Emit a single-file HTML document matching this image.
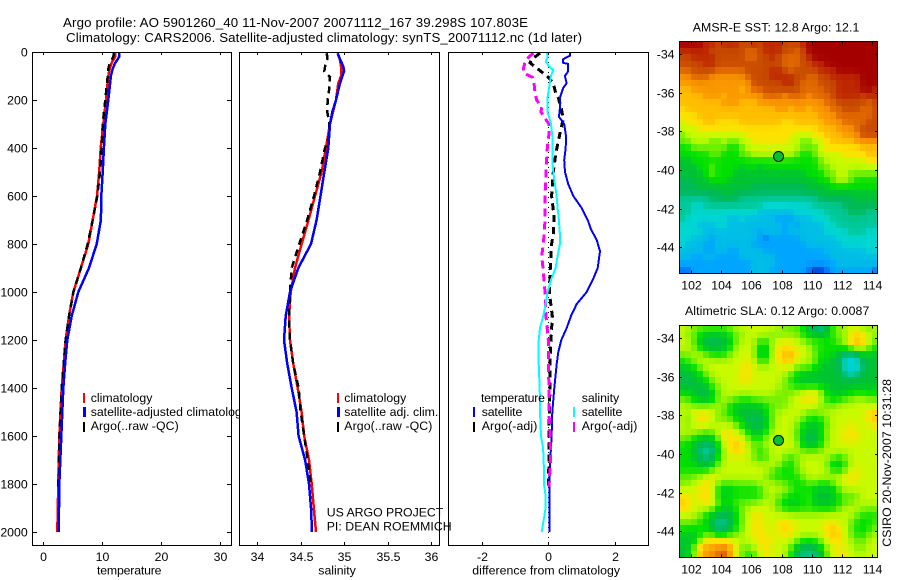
<!DOCTYPE html>
<html>
<head>
<meta charset="utf-8">
<title>Argo profile</title>
<style>
html,body{margin:0;padding:0;background:#fff;}
svg{display:block;}
text{font-family:"Liberation Sans",sans-serif;font-size:12.3px;fill:#000;}
</style>
</head>
<body>
<svg id="figure" xmlns="http://www.w3.org/2000/svg" width="900" height="580" viewBox="0 0 900 580">
  <rect x="0" y="0" width="900" height="580" fill="#fff"/>
  <text x="63" y="27" style="font-size:13.3px" textLength="465" lengthAdjust="spacing">Argo profile: AO 5901260_40 11-Nov-2007 20071112_167 39.298S 107.803E</text>
  <text x="66" y="42" style="font-size:13.3px" textLength="516" lengthAdjust="spacing">Climatology: CARS2006. Satellite-adjusted climatology: synTS_20071112.nc (1d later)</text>

  <g id="temp-panel">
    <rect x="32.5" y="52.5" width="199" height="493" fill="#fff"/>
    <g id="temp-series"></g>
    <g id="temp-axes"></g>
    <rect x="32.5" y="52.5" width="199" height="493" fill="none" stroke="#000"/>
    <g>
      <rect x="83" y="393" width="2" height="10" fill="#f00"/>
      <rect x="83" y="407" width="3" height="10" fill="#00f"/>
      <rect x="83" y="422" width="2" height="10" fill="#000"/>
      <text x="90.7" y="402" textLength="61.7">climatology</text>
      <text x="90.7" y="416">satellite-adjusted climatology</text>
      <text x="90.7" y="430" textLength="88">Argo(..raw -QC)</text>
    </g>
    <text x="97" y="574.5" textLength="64.5">temperature</text>
  </g>

  <g id="sal-panel">
    <rect x="239.5" y="52.5" width="200" height="493" fill="#fff"/>
    <g id="sal-series"></g>
    <g id="sal-axes"></g>
    <rect x="239.5" y="52.5" width="200" height="493" fill="none" stroke="#000"/>
    <g>
      <rect x="337" y="393" width="2" height="10" fill="#f00"/>
      <rect x="337" y="407" width="3" height="10" fill="#00f"/>
      <rect x="337" y="422" width="2" height="10" fill="#000"/>
      <text x="344.3" y="402" textLength="62">climatology</text>
      <text x="344.3" y="416" textLength="94">satellite adj. clim.</text>
      <text x="344.3" y="430" textLength="88">Argo(..raw -QC)</text>
    </g>
    <text x="318.3" y="574.5" textLength="37.5">salinity</text>
  </g>

  <g id="diff-panel">
    <rect x="448.5" y="52.5" width="200" height="493" fill="#fff"/>
    <g id="diff-series"></g>
    <g id="diff-axes"></g>
    <rect x="448.5" y="52.5" width="200" height="493" fill="none" stroke="#000"/>
    <g>
      <text x="481" y="402" textLength="64">temperature</text>
      <text x="581.7" y="402" textLength="37.5">salinity</text>
      <rect x="473" y="407" width="2" height="10" fill="#00f"/>
      <rect x="473" y="422" width="2" height="10" fill="#000"/>
      <rect x="573" y="407" width="2" height="10" fill="#0ff"/>
      <rect x="573" y="422" width="2" height="10" fill="#f0f"/>
      <text x="481.7" y="416" textLength="40.6">satellite</text>
      <text x="481.7" y="430" textLength="55.6">Argo(-adj)</text>
      <text x="581.7" y="416" textLength="40.6">satellite</text>
      <text x="581.7" y="430" textLength="55.6">Argo(-adj)</text>
    </g>
    <text x="472.3" y="574.5" textLength="147.7">difference from climatology</text>
  </g>

  <text x="326.7" y="516.7" textLength="116.6">US ARGO PROJECT</text>
  <text x="326.7" y="530.7" textLength="125">PI: DEAN ROEMMICH</text>

  <g id="sst-map">
    <text x="692.7" y="31.5" textLength="166.6">AMSR-E SST: 12.8 Argo: 12.1</text>
    <g id="sst-cells" shape-rendering="crispEdges"></g>
    <g id="sst-axes"></g>
    <rect x="679.5" y="41.5" width="198" height="232" fill="none" stroke="#000"/>
  </g>

  <g id="sla-map">
    <text x="685" y="315" textLength="184.3">Altimetric SLA: 0.12 Argo: 0.0087</text>
    <g id="sla-cells" shape-rendering="crispEdges"></g>
    <g id="sla-axes"></g>
    <rect x="679.5" y="325.5" width="198" height="232" fill="none" stroke="#000"/>
  </g>

  <text transform="translate(891 546.7) rotate(-90)" x="0" y="0" textLength="167.7">CSIRO 20-Nov-2007 10:31:28</text>
</svg>

<script>
// ---------- chart data ----------
const depthTicks = [0,200,400,600,800,1000,1200,1400,1600,1800,2000];
const tempTicks = [0,10,20,30];
const salTicks = [34,34.5,35,35.5,36];
const salTickLabels = ['34','34.5','35','35.5','36'];
const diffTicks = [-2,0,2];
const lonTicks = [102,104,106,108,110,112,114];
const latTicks = [-34,-36,-38,-40,-42,-44];

const tempDepths = [5,20,47,70,100,200,300,400,500,600,700,800,900,1000,1100,1200,1300,1400,1600,1800,2000];
const tempClim = [12.2,12.2,11.6,11.3,11.05,10.66,10.2,9.76,9.5,9.13,8.4,7.66,6.4,5.1,4.37,3.8,3.47,3.13,2.72,2.55,2.38];
const tempSat = [12.9,12.9,12.2,11.8,11.5,11.05,10.55,10.3,10.1,9.87,9.8,9.08,7.77,5.95,4.83,4.08,3.7,3.4,3.06,2.72,2.62];
const argoTempDepths = [5,20,47,70,100,200,300,400,500,600,700,800,900,1000,1100,1200,1300,1400,1500,1600,1810];
const tempArgo = [12.0,11.9,11.3,11.05,10.95,10.55,10.1,9.93,9.64,9.18,8.4,7.55,6.4,5.13,4.37,3.8,3.47,3.13,2.93,2.75,2.55];

const salDepths = [5,30,60,80,100,130,200,250,300,400,500,600,700,800,900,1000,1100,1200,1300,1400,1500,1600,1700,1800,1900,2000];
const salClim = [34.925,34.95,34.964,34.97,34.964,34.933,34.906,34.87,34.837,34.79,34.74,34.664,34.59,34.51,34.434,34.384,34.365,34.376,34.415,34.465,34.51,34.54,34.595,34.626,34.65,34.676];
const salSat = [34.925,34.952,34.99,35.0,34.98,34.952,34.906,34.864,34.837,34.817,34.771,34.728,34.683,34.618,34.472,34.376,34.327,34.307,34.345,34.396,34.453,34.476,34.55,34.595,34.618,34.63];
const argoSalDepths = [5,30,40,80,105,150,200,250,300,350,400,500,600,700,800,900,1000,1100,1200,1300,1400,1500,1600,1700,1810];
const salArgo = [34.8,34.807,34.79,34.771,34.837,34.83,34.81,34.806,34.83,34.826,34.78,34.722,34.653,34.575,34.484,34.396,34.376,34.365,34.376,34.415,34.476,34.5,34.54,34.58,34.62];

const diffSatTempDepths = [5,15,30,45,50,80,100,130,150,190,230,270,300,350,400,450,500,550,600,650,700,740,783,830,900,950,1000,1050,1100,1150,1200,1250,1300,1400,1500,1600,1700,1800,1900,2000];
const diffSatTemp = [0.654,0.65,0.45,0.45,0.6,0.6,0.5,0.553,0.45,0.352,0.352,0.322,0.48,0.533,0.524,0.48,0.503,0.6,0.753,1.006,1.187,1.29,1.458,1.557,1.487,1.337,1.156,0.855,0.684,0.553,0.392,0.3,0.253,0.18,0.12,0.1,0.06,0.03,0.03,0.03];
const diffSatSalDepths = [5,20,40,60,75,100,150,200,250,270,300,350,400,450,500,550,600,650,700,760,800,850,900,950,1000,1050,1100,1150,1200,1300,1400,1500,1600,1650,1700,1800,1850,1900,1950,2000];
const diffSatSal = [-0.04,-0.02,-0.07,0.02,0.15,0.08,0.02,-0.03,-0.02,0.02,0.08,0.12,0.12,0.12,0.15,0.2,0.25,0.28,0.32,0.35,0.35,0.28,0.22,0.08,-0.02,-0.08,-0.15,-0.25,-0.29,-0.29,-0.26,-0.25,-0.22,-0.16,-0.14,-0.13,-0.08,-0.08,-0.14,-0.2];
const diffArgoTempDepths = [5,15,30,45,80,105,130,170,190,240,280,340,420,500,600,680,750,800,900,1000,1100,1200,1300,1400,1500,1700,1810];
const diffArgoTemp = [-0.25,-0.35,-0.5,-0.55,-0.23,0,0.15,0.22,0.3,0.4,0.45,0.35,0.23,0.15,0.1,0.17,0.16,0.1,0.06,0.03,0.12,0.08,0.05,0.05,0.03,0.02,0];
const diffArgoSalDepths = [5,20,40,70,90,105,130,170,200,230,250,280,300,340,400,450,500,600,700,750,800,850,900,1000,1100,1200,1300,1400,1500,1600,1700,1810];
const diffArgoSal = [-0.45,-0.58,-0.7,-0.75,-0.72,-0.48,-0.43,-0.4,-0.35,-0.2,-0.22,-0.08,0.02,0.02,-0.03,-0.05,-0.07,-0.1,-0.1,-0.12,-0.15,-0.2,-0.16,-0.1,-0.07,0,0,0.02,0.02,0.05,0.07,0.02];

const argoLon = [107.803];
const argoLat = [-39.298];

// Heatmap values: colour-scale level per cell, north to south, west to east.
const sstGrid = [
[17,17,17,17,16,16,15,16,16,16,15,15,16,15,16,16,16,15,15,15,16,17,17,17,17,17,17,17,17,17,17,17,17],
[16,16,16,16,16,15,15,15,15,15,15,14,14,15,16,16,16,15,15,14,15,17,17,17,17,17,17,17,17,17,17,17,17],
[15,15,16,16,16,16,15,15,15,15,15,14,14,15,15,16,15,14,14,14,15,16,17,17,17,17,17,17,17,17,17,17,17],
[15,15,15,15,16,16,15,15,15,15,15,15,15,15,15,15,15,14,14,14,15,15,16,16,17,17,17,17,17,17,17,17,17],
[14,14,15,15,15,15,14,14,14,14,14,15,15,15,15,16,16,15,14,15,15,15,15,16,16,16,17,17,17,17,17,17,17],
[13,13,14,14,14,13,13,13,13,13,13,14,15,15,15,16,16,16,16,15,15,14,14,15,15,16,16,16,16,16,17,17,17],
[13,13,13,13,13,13,13,13,13,13,13,13,15,15,15,15,15,16,16,15,14,14,14,15,15,15,16,16,16,16,17,17,17],
[12,12,13,13,13,13,13,13,13,13,12,13,14,14,15,15,15,15,15,15,14,14,14,14,15,15,16,16,16,16,17,17,16],
[12,12,12,12,13,13,13,12,13,13,13,13,13,13,14,14,14,13,14,14,14,13,14,14,14,15,16,16,16,16,15,16,16],
[12,12,12,12,12,12,12,13,13,13,12,12,12,13,13,13,13,13,13,13,13,13,13,13,14,14,15,15,15,15,15,14,15],
[11,12,12,12,12,12,12,12,12,12,12,12,12,12,12,12,13,13,12,13,13,12,13,13,13,14,14,15,15,15,14,14,15],
[11,11,11,12,12,12,12,12,12,12,12,12,12,12,12,12,12,12,12,12,12,12,12,13,13,13,14,14,14,14,14,14,15],
[10,11,11,11,12,12,11,11,11,11,12,12,12,12,12,12,12,11,11,12,12,12,12,12,13,13,13,14,14,14,14,15,15],
[10,10,10,11,11,11,11,11,11,11,11,11,11,11,11,11,11,11,11,11,11,11,11,12,12,12,13,13,13,14,15,15,15],
[9,10,10,10,10,10,10,10,10,10,10,11,11,11,11,11,11,11,11,10,10,10,11,11,12,12,12,13,13,13,15,15,15],
[9,9,10,10,10,9,9,10,9,9,10,10,11,11,11,11,11,11,10,10,9,9,10,10,11,12,12,12,12,13,13,13,13],
[8,8,9,9,9,9,9,9,8,8,9,10,10,10,10,10,10,10,10,10,9,9,9,10,11,11,11,11,11,11,12,12,12],
[8,8,8,8,8,9,9,8,8,8,9,9,10,10,10,10,10,10,10,9,8,8,9,10,10,10,10,11,11,11,11,12,12],
[7,7,8,8,8,8,8,8,8,8,8,8,8,8,8,8,8,8,8,8,8,8,8,9,10,10,10,10,10,10,10,11,11],
[7,7,7,8,8,9,8,8,8,8,7,8,8,7,8,8,8,8,8,8,8,8,8,9,9,10,10,10,10,10,10,10,10],
[7,7,7,7,8,9,8,8,8,7,7,7,7,7,7,7,7,7,7,7,7,8,8,8,9,9,10,10,9,9,9,9,9],
[6,6,7,7,7,8,8,8,7,7,7,7,7,7,7,7,7,7,7,7,7,7,7,8,8,9,10,10,9,8,8,8,8],
[6,6,6,7,7,7,7,7,7,7,7,7,6,6,6,6,6,6,6,6,6,7,7,7,7,8,8,8,8,8,8,8,8],
[6,6,6,6,6,6,6,7,7,6,6,6,6,6,6,6,6,6,6,6,6,6,6,7,7,7,7,7,7,7,7,7,7],
[5,5,5,5,5,6,6,6,6,6,5,5,5,5,5,5,5,5,5,5,5,5,5,6,6,6,6,6,6,7,7,7,7],
[5,5,4,4,5,5,5,5,5,5,5,5,5,5,4,4,4,4,4,4,4,4,5,5,5,5,5,6,6,6,6,6,6],
[5,5,4,4,4,4,4,4,4,4,4,4,4,3,3,3,3,3,3,4,4,4,4,4,5,5,5,5,6,6,6,5,5],
[5,4,4,4,4,4,4,4,3,3,4,3,3,3,3,3,2,2,2,3,3,3,4,4,4,5,5,5,5,5,5,5,5],
[4,4,4,3,3,3,4,4,3,3,3,3,3,3,3,3,3,2,3,2,3,3,3,3,4,4,5,5,5,5,5,5,5],
[4,4,4,4,3,3,3,3,3,3,3,3,3,2,3,3,3,2,3,3,3,3,3,3,4,4,4,4,5,5,5,4,4],
[4,4,3,3,3,2,3,3,3,3,3,3,3,2,1,2,2,2,2,2,3,3,3,3,3,3,4,4,4,4,4,4,4],
[4,3,3,3,2,2,3,3,3,3,3,3,2,2,2,2,2,2,2,2,2,3,3,3,3,3,3,4,4,4,4,4,4],
[3,3,3,3,2,2,3,3,2,2,3,3,3,3,2,2,2,2,2,2,2,2,2,2,3,3,3,3,3,3,3,4,4],
[3,3,2,2,3,3,2,2,2,2,3,3,3,3,3,3,2,2,2,2,2,2,2,2,2,3,3,3,3,3,3,3,3],
[2,2,2,2,2,2,2,2,2,2,2,2,3,3,3,3,2,2,2,2,2,2,2,2,2,2,3,3,3,3,3,3,3],
[1,1,2,2,2,2,2,2,2,2,2,2,3,3,3,2,2,2,2,2,2,1,0,0,1,2,2,2,2,2,2,2,1]
];
const slaGrid = [
[10,10,9,9,9,9,9,9,9,10,10,10,10,10,10,10,10,9,9,9,8,7,6,4,6,9,9,10,10,10,9,9,10],
[10,9,9,8,7,7,7,7,8,9,9,10,10,10,10,9,9,9,9,9,8,7,7,7,7,9,9,9,10,12,11,10,9],
[10,10,9,7,6,6,6,7,7,9,10,10,10,8,8,10,10,11,11,10,10,9,9,9,8,8,9,10,12,13,12,10,9],
[10,10,9,8,7,7,7,7,8,10,10,10,10,7,7,10,11,11,11,10,10,10,8,8,8,8,8,8,9,10,10,9,8],
[9,9,10,10,9,8,8,8,9,10,10,10,10,7,7,10,11,12,13,11,10,10,9,8,8,8,7,5,5,5,8,7,7],
[8,9,9,10,10,10,10,10,10,10,10,11,10,8,8,10,11,12,12,10,10,10,9,8,7,7,6,4,3,4,6,7,7],
[7,7,8,9,10,10,10,10,10,10,11,11,10,10,10,10,10,10,10,9,9,9,8,7,7,7,7,4,3,4,5,7,7],
[7,7,7,8,9,10,10,10,10,10,11,11,10,10,10,10,10,10,9,8,7,7,7,7,7,7,7,5,4,5,7,7,7],
[6,6,7,7,8,9,10,10,10,10,11,11,10,10,10,10,10,9,8,7,7,7,7,7,7,7,7,7,7,7,7,7,7],
[7,7,7,7,7,9,9,10,10,10,10,10,10,10,10,10,10,9,9,8,8,8,8,8,7,7,7,7,7,7,7,7,7],
[8,7,7,6,6,7,9,10,10,10,10,10,10,10,10,10,9,9,9,10,10,11,11,10,8,7,7,7,8,8,8,8,8],
[9,9,8,7,7,7,9,10,9,9,8,8,9,9,9,9,9,9,10,10,11,11,11,10,8,8,8,9,9,10,10,9,9],
[10,10,9,9,9,10,10,9,8,7,7,7,7,7,8,9,9,9,10,10,10,10,10,9,9,9,10,10,10,10,10,10,10],
[10,9,11,11,11,10,9,9,8,7,7,7,7,7,8,9,10,10,10,10,10,9,9,10,10,10,10,10,10,10,10,11,12],
[10,9,10,11,11,10,9,9,9,8,7,6,6,6,7,9,10,10,10,10,9,8,8,8,9,10,10,10,10,10,10,11,12],
[10,9,10,11,10,10,10,10,10,9,8,7,6,7,7,9,10,10,10,9,8,7,7,7,9,10,10,10,11,10,10,10,11],
[10,10,10,9,9,9,10,11,11,10,10,8,7,7,8,10,10,10,10,9,7,7,7,8,10,10,10,11,11,11,10,10,10],
[9,9,8,7,7,7,9,11,11,11,10,9,8,8,9,10,10,10,10,9,7,6,6,7,9,10,10,11,11,11,10,10,10],
[8,8,7,6,6,6,8,10,11,12,11,10,9,9,10,10,10,10,10,10,7,7,7,8,10,10,10,10,10,10,10,10,10],
[8,8,7,5,4,5,7,10,11,12,11,10,9,8,9,10,10,10,10,10,9,9,9,9,10,10,10,10,10,10,10,10,10],
[8,8,7,6,5,6,8,10,10,10,10,10,9,8,8,10,10,9,8,9,10,10,10,10,10,9,8,9,10,10,10,10,10],
[8,8,8,7,7,7,9,10,10,10,10,10,10,10,10,10,10,8,8,9,10,10,10,10,9,7,7,8,10,10,10,10,10],
[8,8,8,8,8,9,10,10,10,10,10,10,10,10,10,9,8,8,8,9,10,10,10,10,10,8,8,9,10,11,10,10,10],
[9,9,9,10,10,11,10,10,10,10,10,10,10,10,9,8,8,8,8,8,9,10,10,10,10,10,10,11,11,11,10,10,10],
[9,9,10,10,11,11,9,9,9,9,9,9,9,10,10,10,9,9,8,8,8,9,9,8,8,9,10,10,11,10,10,10,10],
[10,10,10,11,11,10,8,7,7,8,8,8,8,8,10,10,10,10,9,8,8,8,7,7,7,7,9,10,10,10,10,10,10],
[11,11,10,11,12,10,8,7,8,8,8,8,8,8,9,10,9,8,8,8,8,9,7,7,7,7,8,9,8,9,10,10,10],
[12,11,10,10,11,11,9,8,8,9,9,9,9,10,10,10,8,8,7,7,8,9,7,7,7,7,8,9,9,10,10,10,10],
[11,11,10,10,10,9,8,7,7,8,9,10,10,10,10,10,9,8,8,8,8,8,8,8,8,8,9,10,10,10,9,9,9],
[10,10,10,9,8,7,6,6,7,8,9,10,11,11,10,10,10,10,10,10,10,10,10,10,10,10,10,10,10,9,8,8,8],
[9,9,9,8,8,6,5,5,6,8,9,10,11,11,10,10,11,11,11,10,10,10,10,10,11,11,10,10,9,8,8,8,9],
[8,8,8,8,8,7,4,5,7,8,9,10,11,11,10,10,11,12,11,10,10,10,10,10,11,12,11,10,9,8,8,8,9],
[8,7,7,8,9,9,8,8,9,9,10,10,11,11,11,10,10,11,11,10,10,10,10,10,11,12,12,10,9,8,8,9,10],
[7,7,7,9,11,11,11,11,11,10,10,10,10,11,11,11,10,10,10,9,8,8,8,9,10,11,11,10,10,9,9,10,10],
[7,7,9,12,13,13,13,14,13,10,9,9,10,11,11,10,10,10,9,7,6,6,6,8,10,10,11,10,10,9,9,10,10],
[7,7,9,12,13,13,14,15,13,10,9,8,8,10,11,10,10,10,8,6,5,5,5,6,9,10,11,11,10,10,10,10,10]
];

// ---------- colour scale ----------
const levelColors = [
  [0,50,190],[0,110,255],[0,165,255],[0,190,230],[0,215,210],[0,200,150],
  [0,185,90],[0,195,50],[0,225,0],[110,240,0],[200,250,0],[255,225,0],
  [255,190,0],[250,150,0],[225,105,0],[200,75,0],[190,40,0],[165,0,0]
];
function levelColor(v){
  const t = Math.max(0, Math.min(levelColors.length - 1, v));
  const i = Math.min(levelColors.length - 2, Math.floor(t));
  const f = t - i;
  const c = levelColors[i].map(function(a, k){ return Math.round(a + (levelColors[i + 1][k] - a) * f); });
  return 'rgb(' + c.join(',') + ')';
}
// The source field is soft-edged; display each cell with a little weight from its neighbours.
function softened(grid, r, c, centre, edge, corner){
  let sum = 0, weight = 0;
  for (let dr = -1; dr <= 1; dr++){
    for (let dc = -1; dc <= 1; dc++){
      const row = grid[r + dr];
      if (!row || row[c + dc] === undefined) continue;
      const w = (dr === 0 && dc === 0) ? centre : ((dr === 0 || dc === 0) ? edge : corner);
      sum += row[c + dc] * w;
      weight += w;
    }
  }
  return sum / weight;
}

// ---------- helpers ----------
const SVGNS = 'http://www.w3.org/2000/svg';
function linear(d0, r0, d1, r1){
  return function(v){ return r0 + (v - d0) * (r1 - r0) / (d1 - d0); };
}
const depthY = linear(0, 52, 2000, 532);
const tempX = linear(0, 43.3, 30, 219.7);
const salX = linear(34, 257.3, 36, 431);
const diffX = linear(-2, 481.9, 2, 614.7);

function drawSeries(groupId, depths, values, xFn, color, width, dash, name){
  const line = document.createElementNS(SVGNS, 'polyline');
  const pts = depths.map(function(d, i){ return xFn(values[i]).toFixed(1) + ',' + depthY(d).toFixed(1); });
  line.setAttribute('points', pts.join(' '));
  line.setAttribute('fill', 'none');
  line.setAttribute('stroke', color);
  line.setAttribute('stroke-width', width);
  line.setAttribute('shape-rendering', 'crispEdges');
  if (dash) line.setAttribute('stroke-dasharray', dash);
  
  
  document.getElementById(groupId).appendChild(line);
}
function drawTick(groupId, x1, y1, x2, y2){
  const tick = document.createElementNS(SVGNS, 'line');
  tick.setAttribute('x1', x1);
  tick.setAttribute('y1', y1);
  tick.setAttribute('x2', x2);
  tick.setAttribute('y2', y2);
  tick.setAttribute('stroke', '#000');
  tick.setAttribute('shape-rendering', 'crispEdges');
  
  
  document.getElementById(groupId).appendChild(tick);
}
function drawLabel(groupId, x, y, anchor, str){
  const label = document.createElementNS(SVGNS, 'text');
  label.setAttribute('x', x);
  label.setAttribute('y', y);
  label.setAttribute('text-anchor', anchor);
  label.textContent = str;
  
  
  document.getElementById(groupId).appendChild(label);
}
function drawXAxis(groupId, ticks, labels, xFn){
  ticks.forEach(function(t, i){
    const x = Math.round(xFn(t)) + 0.5;
    drawTick(groupId, x, 52, x, 55);
    drawTick(groupId, x, 545, x, 542);
    drawLabel(groupId, x, 561, 'middle', labels[i]);
  });
}
function drawMap(cellsId, axesId, grid, topLat, bottomLat, top, bottom, centre, edge, corner){
  const lonX = linear(102, 691.3, 114, 871.7);
  const latY = linear(topLat, top, bottomLat, bottom);
  const lon0 = 101.2, dLon = 0.4, dLat = (topLat - bottomLat) / grid.length;
  const cells = document.getElementById(cellsId);
  grid.forEach(function(row, r){
    row.forEach(function(v, c){
      const x0 = Math.round(lonX(lon0 + c * dLon));
      const x1 = Math.round(lonX(lon0 + (c + 1) * dLon));
      const y0 = Math.round(latY(topLat - r * dLat));
      const y1 = Math.round(latY(topLat - (r + 1) * dLat));
      const cell = document.createElementNS(SVGNS, 'rect');
      cell.setAttribute('x', x0);
      cell.setAttribute('y', y0);
      cell.setAttribute('width', x1 - x0);
      cell.setAttribute('height', y1 - y0);
      cell.setAttribute('fill', levelColor(softened(grid, r, c, centre, edge, corner)));
      
      
      cells.appendChild(cell);
    });
  });
  lonTicks.forEach(function(t){
    const x = Math.round(lonX(t)) + 0.5;
    drawTick(axesId, x, top, x, top + 3);
    drawTick(axesId, x, bottom, x, bottom - 3);
    drawLabel(axesId, x, bottom + 16, 'middle', String(t));
  });
  latTicks.forEach(function(t){
    const y = Math.round(latY(t)) + 0.5;
    drawTick(axesId, 679, y, 682, y);
    drawTick(axesId, 878, y, 875, y);
    drawLabel(axesId, 674.5, y + 4, 'end', String(t));
  });
  const marker = document.createElementNS(SVGNS, 'circle');
  marker.setAttribute('cx', lonX(argoLon[0]));
  marker.setAttribute('cy', latY(argoLat[0]));
  marker.setAttribute('r', 5);
  marker.setAttribute('fill', levelColor(7));
  marker.setAttribute('stroke', '#000');
  
  
  document.getElementById(axesId).appendChild(marker);
}

// ---------- draw ----------
drawSeries('temp-series', tempDepths, tempClim, tempX, '#f00', 2.5, null, 'temperature-climatology-line');
drawSeries('temp-series', argoTempDepths, tempArgo, tempX, '#000', 2.5, '7 5', 'temperature-argo-line');
drawSeries('temp-series', tempDepths, tempSat, tempX, '#00f', 2.5, null, 'temperature-satellite-line');

drawSeries('sal-series', salDepths, salClim, salX, '#f00', 2.5, null, 'salinity-climatology-line');
drawSeries('sal-series', argoSalDepths, salArgo, salX, '#000', 2.5, '7 5', 'salinity-argo-line');
drawSeries('sal-series', salDepths, salSat, salX, '#00f', 2.5, null, 'salinity-satellite-line');

drawSeries('diff-series', [0, 2050], [0, 0], diffX, '#000', 1, '1 4', 'zero-difference-line');
drawSeries('diff-series', diffArgoTempDepths, diffArgoTemp, diffX, '#000', 3, '7 5', 'difference-temp-argo-line');
drawSeries('diff-series', diffSatTempDepths, diffSatTemp, diffX, '#00f', 2, null, 'difference-temp-satellite-line');
drawSeries('diff-series', diffArgoSalDepths, diffArgoSal, diffX, '#f0f', 3, '8 5', 'difference-sal-argo-line');
drawSeries('diff-series', diffSatSalDepths, diffSatSal, diffX, '#0ff', 2, null, 'difference-sal-satellite-line');

depthTicks.forEach(function(d){
  const y = Math.round(depthY(d)) + 0.5;
  drawTick('temp-axes', 32, y, 37, y);
  drawTick('temp-axes', 232, y, 227, y);
  drawLabel('temp-axes', 27.7, y + 4, 'end', String(d));
});
drawXAxis('temp-axes', tempTicks, tempTicks.map(String), tempX);
drawXAxis('sal-axes', salTicks, salTickLabels, salX);
drawXAxis('diff-axes', diffTicks, diffTicks.map(String), diffX);

drawMap('sst-cells', 'sst-axes', sstGrid, -33.34, -45.34, 41.3, 273.3, 6, 1, 0.5);
drawMap('sla-cells', 'sla-axes', slaGrid, -33.35, -45.35, 325.5, 557.3, 5, 2, 1);
</script>
</body>
</html>
